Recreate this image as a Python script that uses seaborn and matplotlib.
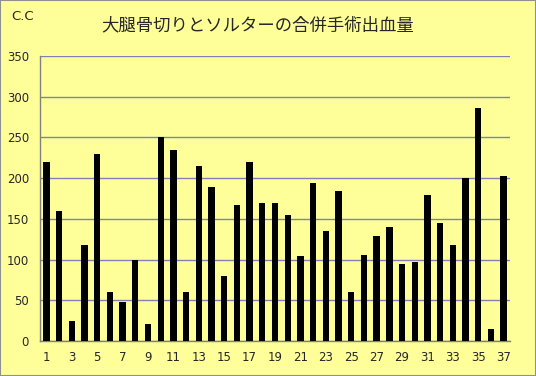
import numpy as np
import pandas as pd
import matplotlib
matplotlib.use('Agg')
import matplotlib.pyplot as plt
from matplotlib.ticker import FixedLocator
import seaborn as sns

# 症例番号と出血量 (C.C)
cases = list(range(1, 38))
blood = [220, 160, 25, 118, 230, 60, 48, 100, 21, 250,
         235, 60, 215, 189, 80, 167, 220, 170, 170, 155,
         104, 194, 135, 184, 60, 106, 129, 140, 95, 97,
         179, 145, 118, 200, 286, 15, 203]
yticks = [0, 50, 100, 150, 200, 250, 300, 350]

df = pd.DataFrame({'case': cases, 'blood': blood})

sns.set_style('white')
plt.rcParams['font.family'] = ['DejaVu Sans']

bg = '#FFFF99'
fig = plt.figure(figsize=(5.36, 3.76), dpi=100, facecolor=bg)
fig.patches.append(plt.Rectangle((0, 0), 1, 1, transform=fig.transFigure,
                                 fill=False, edgecolor='#909090', lw=1.5))
ax = fig.add_axes([40/536, 35/376, 470/536, 285/376])
ax.set_facecolor(bg)

sns.barplot(data=df, x='case', y='blood', color='black', width=0.5,
            saturation=1, linewidth=0, ax=ax, zorder=3)

ax.set_ylim(0, 350)
ax.set_xlim(-0.5, len(cases) - 0.5)
ax.set_yticks(yticks)
ax.yaxis.grid(True, color='#8080B8', lw=1, zorder=0)
ax.set_axisbelow(True)

ax.set_xticks(range(0, len(cases), 2))
ax.set_xticklabels([str(c) for c in cases[::2]])
ax.xaxis.set_minor_locator(FixedLocator(np.arange(-0.5, len(cases), 1)))
ax.tick_params(axis='x', which='major', length=0, pad=7, labelsize=8.5)
ax.tick_params(axis='x', which='minor', length=4, color='#808080', width=1)
ax.tick_params(axis='y', length=4, color='#808080', labelsize=8.5, pad=4)

for s in ['top', 'right']:
    ax.spines[s].set_visible(False)
for s in ['left', 'bottom']:
    ax.spines[s].set_color('#808080')
    ax.spines[s].set_linewidth(1)

ax.set_xlabel('')
ax.set_ylabel('')

fig.text(258/536, 1 - 25/376, '大腿骨切りとソルターの合併手術出血量',
         ha='center', va='center', fontsize=12.5,
         family=['Noto Sans CJK JP', 'DejaVu Sans'])
fig.text(11/536, 1 - 17/376, 'C.C', ha='left', va='center', fontsize=9.5)

fig.savefig('out.png', dpi=100, facecolor=bg)
